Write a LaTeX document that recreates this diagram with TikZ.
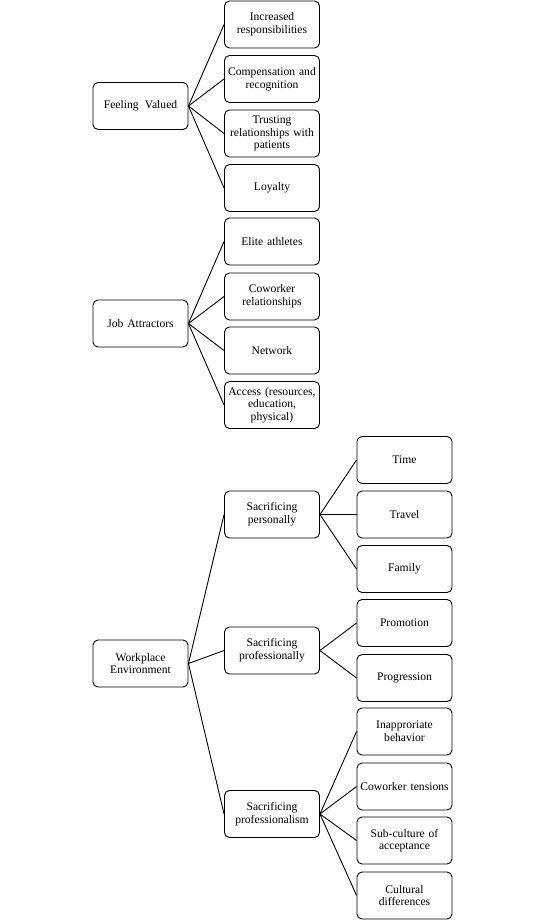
\documentclass[tikz,border=0pt]{standalone}
\usepackage{fontspec}
\setmainfont{Liberation Serif}
\begin{document}
\begin{tikzpicture}[x=1pt,y=-1pt,
  box/.style={draw=black, line width=0.9pt, rounded corners=5pt, minimum width=95pt, minimum height=47pt,
    text width=94pt, align=center, inner sep=0.5pt, font=\fontsize{11.6}{12.7}\selectfont},
  conn/.style={draw=black, line width=0.9pt}]
\useasboundingbox (0,0) rectangle (544,920);
% column 1
\node[box] (fv) at (140.5,106) {Feeling\hspace{0.55em}Valued};
\node[box] (ja) at (140.5,323.5) {Job Attractors};
\node[box] (we) at (140.5,663.5) {Workplace\\Environment};
% column 2
\node[box] (inc) at (272,24.5) {Increased\\responsibilities};
\node[box] (comp) at (272,79) {Compensation and\\recognition};
\node[box] (trust) at (272,133.5) {Trusting\\relationships with\\patients};
\node[box] (loy) at (272,188) {Loyalty};
\node[box] (elite) at (272,241.5) {Elite athletes};
\node[box] (cow) at (272,296.5) {Coworker\\relationships};
\node[box] (net) at (272,350.5) {Network};
\node[box] (acc) at (272,405) {Access (resources,\\education,\\physical)};
\node[box] (sper) at (272,514.5) {Sacrificing\\personally};
\node[box] (sprof) at (272,650.5) {Sacrificing\\professionally};
\node[box] (spism) at (272,814) {Sacrificing\\professionalism};
% column 3
\node[box] (time) at (404.5,460) {Time};
\node[box] (trav) at (404.5,514.5) {Travel};
\node[box] (fam) at (404.5,569) {Family};
\node[box] (prom) at (404.5,623) {Promotion};
\node[box] (prog) at (404.5,678) {Progression};
\node[box] (inap) at (404.5,731.5) {Inapproriate\\behavior};
\node[box] (cten) at (404.5,786.5) {Coworker tensions};
\node[box] (sub) at (404.5,840.5) {Sub-culture of\\acceptance};
\node[box] (cult) at (404.5,895.5) {Cultural\\differences};
% connectors
\foreach \c in {inc,comp,trust,loy} \draw[conn] (fv.east) -- (\c.west);
\foreach \c in {elite,cow,net,acc} \draw[conn] (ja.east) -- (\c.west);
\foreach \c in {sper,sprof,spism} \draw[conn] (we.east) -- (\c.west);
\foreach \c in {time,trav,fam} \draw[conn] (sper.east) -- (\c.west);
\foreach \c in {prom,prog} \draw[conn] (sprof.east) -- (\c.west);
\foreach \c in {inap,cten,sub,cult} \draw[conn] (spism.east) -- (\c.west);
\end{tikzpicture}
\end{document}
